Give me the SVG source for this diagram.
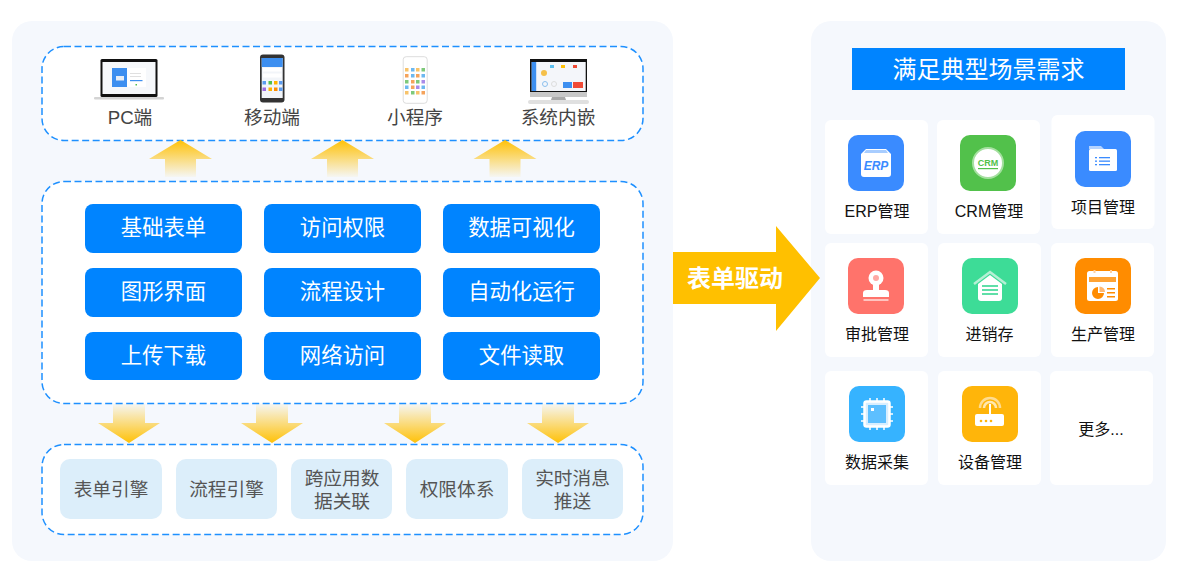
<svg xmlns="http://www.w3.org/2000/svg" width="1177" height="576" viewBox="0 0 1177 576">
<style>
text{font-family:"Liberation Sans","Noto Sans CJK SC",sans-serif;text-anchor:middle}
.panel{fill:#f5f8fd}
.dash{fill:#fff;stroke:#1e90ff;stroke-width:1.5;stroke-dasharray:7 3.5}
.btn{fill:#0084ff}
.btxt{font-size:21.33px;fill:#fff}
.eng{fill:#dceefa}
.etxt{font-size:18.67px;fill:#555}
.dtxt{font-size:18.67px;fill:#444}
.card{fill:#fff}
.ltxt{font-size:16px;fill:#111}
</style>
<defs>
<linearGradient id="up" x1="0" y1="0" x2="0" y2="1"><stop offset="0" stop-color="#ffc107"/><stop offset="1" stop-color="#ffc107" stop-opacity=".04"/></linearGradient>
<linearGradient id="down" x1="0" y1="1" x2="0" y2="0"><stop offset="0" stop-color="#ffc107"/><stop offset="1" stop-color="#ffc107" stop-opacity=".04"/></linearGradient>
<path id="au" d="M0 0L31.500 19H15.500V37H-15.500V19H-31.500Z" fill="url(#up)"/>
<path id="ad" d="M0 0L31-20H16V-39H-16V-20H-31Z" fill="url(#down)"/>
</defs>
<rect width="1177" height="576" fill="#fff"/>
<rect id="left-panel" class="panel" x="12" y="21" width="661" height="540" rx="20"/>
<rect id="right-panel" class="panel" x="811" y="21" width="355" height="540" rx="20"/>
<rect id="box-clients" class="dash" x="42" y="46.500" width="601" height="94" rx="22"/>
<rect id="box-features" class="dash" x="42" y="181.500" width="601" height="222" rx="22"/>
<rect id="box-engines" class="dash" x="42" y="444.500" width="601" height="90" rx="22"/>

<g id="connectors">
<use href="#au" x="180.500" y="140"/>
<use href="#au" x="342.500" y="140"/>
<use href="#au" x="505" y="140"/>
<use href="#ad" x="129" y="443"/>
<use href="#ad" x="272" y="443"/>
<use href="#ad" x="415" y="443"/>
<use href="#ad" x="558" y="443"/>
<path d="M673 252H776V226L820 278L776 331V304H673Z" fill="#ffc000"/>
<text x="735" y="287" font-size="24" font-weight="700" fill="#fff">表单驱动</text>
</g>

<g id="client-pc">
<rect x="100.500" y="59" width="57" height="38" rx="1.500" fill="#111"/>
<rect x="102.500" y="62" width="53" height="32" fill="#f6f8fb"/>
<rect x="112" y="68" width="15" height="19" fill="#3d8ff0"/>
<rect x="116" y="76" width="8" height="4.500" fill="#e8eef6"/>
<rect x="127" y="68" width="19" height="19" fill="#fff"/>
<rect x="130" y="80" width="12.500" height="1.200" fill="#3d8ff0"/>
<rect x="130" y="73" width="11" height=".6" fill="#ccc"/>
<rect x="130" y="76" width="11" height=".6" fill="#ccc"/>
<rect x="135.500" y="84" width="1.500" height="1.500" fill="#52be4d"/>
<rect x="94" y="97" width="70" height="2.500" rx="1" fill="#d4d4d4"/>
<text class="dtxt" x="130" y="124">PC端</text>
</g>
<g id="client-mobile">
<rect x="260" y="54.500" width="24.500" height="48" rx="3" fill="#333"/>
<rect x="261.700" y="58" width="21" height="40" fill="#f2f5f9"/>
<rect x="261.700" y="58" width="21" height="9" fill="#3d8ff0"/>
<rect x="263" y="68" width="18.500" height="3.500" fill="#fff"/>
<rect x="263" y="73.500" width="18.500" height="4" fill="#fff"/>
<rect x="262.500" y="81" width="3.500" height="3.500" fill="#5b9bf0"/>
<rect x="268.500" y="81" width="3.500" height="3.500" fill="#52be4d"/>
<rect x="274" y="81" width="3.500" height="3.500" fill="#ffb300"/>
<rect x="279" y="81" width="3.500" height="3.500" fill="#5b9bf0"/>
<rect x="262.500" y="87.500" width="3.500" height="3.500" fill="#9c6be0"/>
<rect x="268.500" y="87.500" width="3.500" height="3.500" fill="#ffb300"/>
<rect x="274" y="87.500" width="3.500" height="3.500" fill="#ff8c00"/>
<rect x="279" y="87.500" width="3.500" height="3.500" fill="#5b9bf0"/>
<text class="dtxt" x="272" y="124">移动端</text>
</g>
<g id="client-mini">
<rect x="403.200" y="56.700" width="24" height="46.600" rx="3" fill="#fff" stroke="#ddd"/>
<g fill="#f8c36a"><rect x="405" y="68" width="3.500" height="3.500"/><rect x="416" y="68" width="3.500" height="3.500"/><rect x="405" y="91" width="3.500" height="3.500"/><rect x="416" y="91" width="3.500" height="3.500"/></g>
<g fill="#6cb8f0"><rect x="411" y="68" width="3.500" height="3.500"/><rect x="411" y="74" width="3.500" height="3.500"/><rect x="421.500" y="74" width="3.500" height="3.500"/><rect x="405" y="85.500" width="3.500" height="3.500"/><rect x="421.500" y="85.500" width="3.500" height="3.500"/></g>
<g fill="#7ec97a"><rect x="421.500" y="68" width="3.500" height="3.500"/><rect x="405" y="80" width="3.500" height="3.500"/><rect x="416" y="80" width="3.500" height="3.500"/><rect x="411" y="91" width="3.500" height="3.500"/></g>
<g fill="#a98be8"><rect x="421.500" y="80" width="3.500" height="3.500"/><rect x="416" y="85.500" width="3.500" height="3.500"/></g>
<g fill="#f5a35c"><rect x="405" y="74" width="3.500" height="3.500"/><rect x="416" y="74" width="3.500" height="3.500"/><rect x="411" y="80" width="3.500" height="3.500"/><rect x="411" y="85.500" width="3.500" height="3.500"/><rect x="421.500" y="91" width="3.500" height="3.500"/></g>
<text class="dtxt" x="415" y="124">小程序</text>
</g>
<g id="client-embed">
<rect x="530" y="59" width="57" height="33" fill="#111"/>
<rect x="531.700" y="62" width="54" height="29" fill="#f4f6fa"/>
<rect x="531.700" y="62" width="4.500" height="29" fill="#3d8ff0"/>
<rect x="563" y="82" width="9" height="6" fill="#3d8ff0"/>
<rect x="573" y="82" width="10" height="6" fill="#f04a36"/>
<rect x="550" y="65" width="4" height="3" fill="#5cc0f0"/><rect x="561" y="65" width="4" height="3" fill="#ffc107"/><rect x="573" y="65" width="4" height="3" fill="#f04a36"/>
<circle cx="544" cy="73" r="3" fill="#f5c04a"/>
<circle cx="545" cy="84" r="2.500" fill="none" stroke="#8cc0ee"/>
<circle cx="554" cy="84" r="2.500" fill="none" stroke="#ddd"/>
<path d="M530 92H587V97H530Z" fill="#c8c8c8"/>
<path d="M552 97H565L566 100H551Z" fill="#aaa"/>
<rect x="528" y="100" width="61" height="4" rx="2" fill="#e0e0e0"/>
<text class="dtxt" x="558" y="124">系统内嵌</text>
</g>

<g id="feature-1"><rect class="btn" x="85" y="204" width="157" height="49" rx="8"/><text class="btxt" x="163.500" y="235">基础表单</text></g>
<g id="feature-2"><rect class="btn" x="264" y="204" width="157" height="49" rx="8"/><text class="btxt" x="342.500" y="235">访问权限</text></g>
<g id="feature-3"><rect class="btn" x="443" y="204" width="157" height="49" rx="8"/><text class="btxt" x="521.500" y="235">数据可视化</text></g>
<g id="feature-4"><rect class="btn" x="85" y="268" width="157" height="49" rx="8"/><text class="btxt" x="163.500" y="299">图形界面</text></g>
<g id="feature-5"><rect class="btn" x="264" y="268" width="157" height="49" rx="8"/><text class="btxt" x="342.500" y="299">流程设计</text></g>
<g id="feature-6"><rect class="btn" x="443" y="268" width="157" height="49" rx="8"/><text class="btxt" x="521.500" y="299">自动化运行</text></g>
<g id="feature-7"><rect class="btn" x="85" y="332" width="157" height="48" rx="8"/><text class="btxt" x="163.500" y="363">上传下载</text></g>
<g id="feature-8"><rect class="btn" x="264" y="332" width="157" height="48" rx="8"/><text class="btxt" x="342.500" y="363">网络访问</text></g>
<g id="feature-9"><rect class="btn" x="443" y="332" width="157" height="48" rx="8"/><text class="btxt" x="521.500" y="363">文件读取</text></g>

<g id="engine-1"><rect class="eng" x="60" y="459" width="102" height="60" rx="10"/><text class="etxt" x="111" y="496">表单引擎</text></g>
<g id="engine-2"><rect class="eng" x="176" y="459" width="101" height="60" rx="10"/><text class="etxt" x="226.500" y="496">流程引擎</text></g>
<g id="engine-3"><rect class="eng" x="291" y="459" width="101" height="60" rx="10"/><text class="etxt" x="342" y="484.500">跨应用数</text><text class="etxt" x="342" y="508">据关联</text></g>
<g id="engine-4"><rect class="eng" x="406" y="459" width="102" height="60" rx="10"/><text class="etxt" x="457" y="496">权限体系</text></g>
<g id="engine-5"><rect class="eng" x="522" y="459" width="101" height="60" rx="10"/><text class="etxt" x="572.500" y="484.500">实时消息</text><text class="etxt" x="572.500" y="508">推送</text></g>

<g id="title"><rect x="852" y="48" width="273" height="42" fill="#0084ff"/><text x="988.500" y="77.500" font-size="24" fill="#fff">满足典型场景需求</text></g>

<g id="app-erp"><rect class="card" x="825" y="120" width="103" height="114" rx="6"/><rect x="848" y="135" width="56" height="56" rx="10" fill="#3a8bff"/>
<path d="M866 149H886L891 154V174Q891 177 888 177H864Q861 177 861 174V154Z" fill="#fff"/><path d="M866 150H886L888 153H864Z" fill="#a8cdff"/>
<text x="876" y="170" font-size="12" font-weight="700" font-style="italic" fill="#3a8bff">ERP</text>
<text class="ltxt" x="877" y="217">ERP管理</text></g>
<g id="app-crm"><rect class="card" x="937" y="120" width="103" height="114" rx="6"/><rect x="960" y="135" width="56" height="56" rx="10" fill="#52c14b"/>
<circle cx="988" cy="163" r="15" fill="#fff" stroke="#a5e0a0" stroke-width="2"/>
<text x="988" y="166" font-size="9" font-weight="700" fill="#52c14b">CRM</text><rect x="978" y="168" width="20" height="1.200" fill="#52c14b"/>
<text class="ltxt" x="989" y="217">CRM管理</text></g>
<g id="app-project"><rect class="card" x="1051.500" y="115" width="103" height="114" rx="6"/><rect x="1075" y="131" width="56" height="56" rx="10" fill="#3a8bff"/>
<path d="M1089 146H1101L1104 149H1089Z" fill="#b5d3ff"/><rect x="1089" y="149" width="28" height="22" rx="1.500" fill="#fff"/>
<g fill="#3a8bff"><rect x="1095" y="157" width="2" height="1.300"/><rect x="1099" y="157" width="11" height="1.300"/><rect x="1095" y="160.500" width="2" height="1.300"/><rect x="1099" y="160.500" width="11" height="1.300"/><rect x="1095" y="164" width="2" height="1.300"/><rect x="1099" y="164" width="11" height="1.300"/></g>
<text class="ltxt" x="1103" y="213">项目管理</text></g>

<g id="app-approve"><rect class="card" x="825" y="243" width="103" height="114" rx="6"/><rect x="848" y="258" width="56" height="56" rx="10" fill="#ff736b"/>
<circle cx="876" cy="278" r="7.500" fill="#fff"/><circle cx="876" cy="278" r="3" fill="#ffa8a3"/>
<path d="M873 283H879V290H885Q889 290 889 293V297H863V293Q863 290 867 290H873Z" fill="#fff"/><rect x="863.500" y="299" width="25" height="2" fill="#ffc4c0"/>
<text class="ltxt" x="877" y="340">审批管理</text></g>
<g id="app-stock"><rect class="card" x="938" y="243" width="103" height="114" rx="6"/><rect x="962" y="258" width="56" height="56" rx="10" fill="#3ddc97"/>
<path d="M974 284L990 272L1006 284" fill="none" stroke="#b5f0d5" stroke-width="2.500"/>
<path d="M978 284L990 275L1002 284V298Q1002 301 999 301H981Q978 301 978 298Z" fill="#fff"/>
<g fill="#5fdfa8"><rect x="982" y="285" width="16" height="2"/><rect x="982" y="289" width="16" height="2"/><rect x="982" y="293" width="16" height="2"/></g>
<text class="ltxt" x="989.500" y="340">进销存</text></g>
<g id="app-production"><rect class="card" x="1051" y="243" width="103" height="114" rx="6"/><rect x="1075" y="258" width="56" height="56" rx="10" fill="#ff8c00"/>
<rect x="1087" y="271" width="31" height="30" rx="2.500" fill="#fff"/><rect x="1093.500" y="270" width="2" height="3" fill="#ffd0a0"/><rect x="1110" y="270" width="2" height="3" fill="#ffd0a0"/>
<rect x="1089" y="277" width="27" height="5" fill="#ff8c00" opacity=".8"/>
<path d="M1098 287V293H1104A6 6 0 1 1 1098 287Z" fill="#ff8c00"/><path d="M1099.500 286.500A5.500 5.500 0 0 1 1105 292H1099.500Z" fill="#ffb870"/>
<g fill="#ff8c00"><rect x="1107" y="288" width="8" height="1.500"/><rect x="1107" y="292" width="8" height="1.500"/><rect x="1107" y="296" width="8" height="1.500"/></g>
<text class="ltxt" x="1103" y="340">生产管理</text></g>

<g id="app-collect"><rect class="card" x="825" y="371" width="103" height="114" rx="6"/><rect x="849" y="386" width="56" height="56" rx="10" fill="#36b3ff"/>
<rect x="864.500" y="401.500" width="25" height="25" rx="2" fill="#d8eeff" stroke="#fff" stroke-width="2.500"/><rect x="868" y="405" width="18" height="18" fill="#5dbfff"/><rect x="871" y="408" width="3" height="3" fill="#fff"/>
<path d="M870 398v3M877 398v3M884 398v3M870 427v3M877 427v3M884 427v3M861 407h3M861 414h3M861 421h3M890 407h3M890 414h3M890 421h3" stroke="#fff" stroke-width="1.500"/>
<text class="ltxt" x="877" y="468">数据采集</text></g>
<g id="app-device"><rect class="card" x="938" y="371" width="103" height="114" rx="6"/><rect x="962" y="386" width="56" height="56" rx="10" fill="#ffb50a"/>
<rect x="975" y="414" width="29" height="12" rx="2" fill="#fff"/><rect x="989" y="404" width="2" height="10" fill="#fff"/>
<path d="M984 408A6 6 0 0 1 996 408" fill="none" stroke="#ffe8b0" stroke-width="2.500"/><path d="M980 408A10 10 0 0 1 1000 408" fill="none" stroke="#ffdc90" stroke-width="2.500"/>
<g fill="#ffb50a"><circle cx="981" cy="421" r="1.300"/><circle cx="986" cy="421" r="1.300"/><circle cx="991" cy="421" r="1.300"/></g>
<text class="ltxt" x="990" y="468">设备管理</text></g>
<g id="app-more"><rect class="card" x="1050" y="371" width="103" height="114" rx="6"/><text class="ltxt" x="1101" y="435">更多...</text></g>
</svg>
